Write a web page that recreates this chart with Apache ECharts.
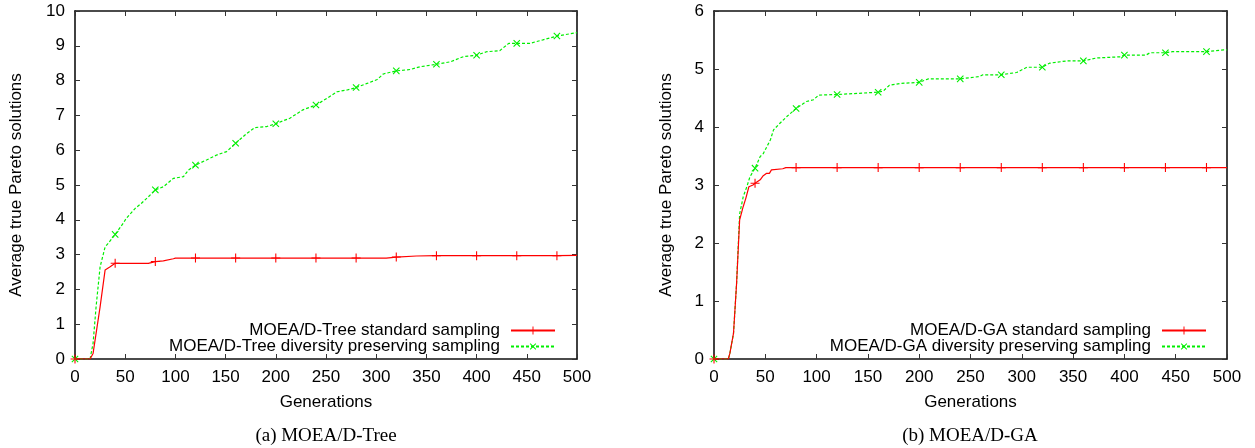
<!DOCTYPE html>
<html>
<head>
<meta charset="utf-8">
<script src="https://cdn.jsdelivr.net/npm/echarts@6/dist/echarts.min.js"></script>
<style>html,body{margin:0;padding:0;background:#fff;}#c{width:1255px;height:448px;}</style>
</head>
<body>
<div id="c"></div>
<script>
// ---- data ----
var markerGens = [0, 40, 80, 120, 160, 200, 240, 280, 320, 360, 400, 440, 480];

var treeStdGen = [0, 15, 18, 25, 30, 35, 40, 73, 80, 88, 98, 100, 120, 160, 200, 240, 280, 310, 320, 340, 360, 400, 440, 480, 500];
var treeStdVal = [0, 0, 0.16, 1.5, 2.56, 2.65, 2.75, 2.75, 2.80, 2.82, 2.88, 2.9, 2.9, 2.9, 2.9, 2.9, 2.9, 2.9, 2.93, 2.96, 2.97, 2.97, 2.97, 2.97, 2.98];

var treeDivGen = [0, 15, 18, 21, 25, 30, 33, 40, 48, 51, 60, 66, 73, 80, 88, 98, 108, 113, 120, 131, 141, 151, 160, 171, 179, 191, 200, 214, 227, 240, 251, 261, 271, 280, 291, 301, 307, 320, 334, 344, 360, 374, 387, 400, 410, 423, 432, 440, 453, 466, 480, 500];
var treeDivVal = [0, 0, 0.45, 1.5, 2.65, 3.22, 3.32, 3.58, 3.9, 4.04, 4.33, 4.47, 4.66, 4.86, 4.95, 5.19, 5.24, 5.43, 5.57, 5.72, 5.86, 5.96, 6.2, 6.48, 6.65, 6.68, 6.76, 6.92, 7.16, 7.30, 7.49, 7.68, 7.73, 7.8, 7.92, 8.03, 8.19, 8.28, 8.32, 8.40, 8.47, 8.54, 8.69, 8.73, 8.83, 8.86, 9.07, 9.07, 9.07, 9.17, 9.28, 9.38];

var gaStdGen = [0, 14, 15.5, 19, 22, 25, 28.5, 31, 34, 38, 40, 45, 48, 51, 54, 56, 67, 70, 80, 120, 160, 200, 240, 280, 320, 360, 400, 440, 480, 500];
var gaStdVal = [0, 0, 0.1, 0.44, 1.3, 2.4, 2.63, 2.77, 2.97, 3.0, 3.03, 3.09, 3.16, 3.2, 3.2, 3.26, 3.28, 3.3, 3.3, 3.3, 3.3, 3.3, 3.3, 3.3, 3.3, 3.3, 3.3, 3.3, 3.3, 3.3];

var gaDivGen = [0, 14, 15.5, 19, 22, 25, 28.5, 32, 35, 40, 45, 48, 55, 58, 64, 71, 80, 90, 97, 102, 120, 160, 165, 171, 181, 200, 209, 240, 259, 262, 280, 295, 305, 320, 327, 344, 360, 373, 396, 400, 421, 425, 440, 447, 480, 497, 500];
var gaDivVal = [0, 0, 0.1, 0.44, 1.3, 2.5, 2.8, 2.97, 3.14, 3.29, 3.49, 3.54, 3.78, 3.95, 4.06, 4.18, 4.32, 4.44, 4.47, 4.55, 4.56, 4.6, 4.62, 4.72, 4.75, 4.77, 4.83, 4.83, 4.87, 4.9, 4.9, 4.94, 5.03, 5.03, 5.1, 5.14, 5.14, 5.19, 5.21, 5.24, 5.24, 5.28, 5.28, 5.3, 5.3, 5.33, 5.33];

var xTicks = [0, 50, 100, 150, 200, 250, 300, 350, 400, 450, 500];
var yMaxLeft = 10, yMaxRight = 6;

var names = {
  treeStd: 'MOEA/D-Tree standard sampling',
  treeDiv: 'MOEA/D-Tree diversity preserving sampling',
  gaStd: 'MOEA/D-GA standard sampling',
  gaDiv: 'MOEA/D-GA diversity preserving sampling'
};
var xName = 'Generations';
var yName = 'Average true Pareto solutions';
var captions = ['(a) MOEA/D-Tree', '(b) MOEA/D-GA'];

// ---- build ----
var FONT = "'Liberation Sans', Arial, sans-serif";
var FS = 17;
var PLUS = 'path://M4.4,0h1.2v4.4h4.4v1.2h-4.4v4.4h-1.2v-4.4h-4.4v-1.2h4.4z';

function buildData(gens, vals) {
  return gens.map(function (g, i) {
    var item = { value: [g, vals[i]] };
    if (markerGens.indexOf(g) < 0) item.symbol = 'none';
    return item;
  });
}

var axisLine = { show: true, onZero: false, lineStyle: { color: '#111', width: 1.6 } };
var axisTick = { show: true, inside: true, length: 5, lineStyle: { color: '#333', width: 1 } };
var labelStyle = { color: '#000', fontSize: FS, fontFamily: FONT };

function xAxes(grid) {
  return [
    { type: 'value', gridIndex: grid, position: 'bottom', min: 0, max: 500, interval: 50,
      axisLine: axisLine, axisTick: axisTick, splitLine: { show: false },
      axisLabel: Object.assign({ margin: 10 }, labelStyle),
      name: xName, nameLocation: 'middle', nameGap: 35,
      nameTextStyle: { color: '#000', fontSize: FS, fontFamily: FONT } },
    { type: 'value', gridIndex: grid, position: 'top', min: 0, max: 500, interval: 50,
      axisLine: axisLine, axisTick: axisTick, splitLine: { show: false }, axisLabel: { show: false } }
  ];
}
function yAxes(grid, max, gap) {
  return [
    { type: 'value', gridIndex: grid, position: 'left', min: 0, max: max, interval: 1,
      axisLine: axisLine, axisTick: axisTick, splitLine: { show: false },
      axisLabel: Object.assign({ margin: 10 }, labelStyle),
      name: yName, nameLocation: 'middle', nameGap: gap, nameRotate: 90,
      nameTextStyle: { color: '#000', fontSize: FS, fontFamily: FONT } },
    { type: 'value', gridIndex: grid, position: 'right', min: 0, max: max, interval: 1,
      axisLine: axisLine, axisTick: axisTick, splitLine: { show: false }, axisLabel: { show: false } }
  ];
}

function lineSeries(name, gens, vals, xi, yi, isDiv) {
  return {
    type: 'line', name: name, xAxisIndex: xi, yAxisIndex: yi,
    data: buildData(gens, vals),
    symbol: PLUS, symbolSize: 9, symbolRotate: isDiv ? 45 : 0,
    showSymbol: true, showAllSymbol: true, animation: false,
    itemStyle: { color: isDiv ? '#00ee00' : '#ff0000' },
    lineStyle: { color: isDiv ? '#00ee00' : '#ff0000', width: 1.2, type: isDiv ? [3, 2] : 'solid' },
    z: isDiv ? 3 : 4
  };
}

function legend(name, right, top) {
  return {
    data: [name], orient: 'vertical', right: right, top: top, align: 'right',
    itemWidth: 44, itemHeight: 10, itemGap: 0, padding: 0,
    textStyle: { color: '#000', fontSize: FS, fontFamily: FONT, padding: [0, 6, 0, 0] },
    selectedMode: false
  };
}

var capFont = "19px 'Liberation Serif', 'Times New Roman', serif";

var option = {
  backgroundColor: '#fff',
  animation: false,
  grid: [
    { left: 75, right: 678, top: 11, bottom: 89 },
    { left: 714, right: 28, top: 11, bottom: 89 }
  ],
  xAxis: xAxes(0).concat(xAxes(1)),
  yAxis: yAxes(0, yMaxLeft, 50).concat(yAxes(1, yMaxRight, 39)),
  legend: [
    legend(names.treeStd, 699, 322),
    legend(names.treeDiv, 699, 338),
    legend(names.gaStd, 48, 322),
    legend(names.gaDiv, 48, 338)
  ],
  series: [
    lineSeries(names.treeStd, treeStdGen, treeStdVal, 0, 0, false),
    lineSeries(names.treeDiv, treeDivGen, treeDivVal, 0, 0, true),
    lineSeries(names.gaStd, gaStdGen, gaStdVal, 2, 2, false),
    lineSeries(names.gaDiv, gaDivGen, gaDivVal, 2, 2, true)
  ],
  graphic: [
    { type: 'text', x: 326, y: 436, style: { text: captions[0], fill: '#000', font: capFont, align: 'center', verticalAlign: 'middle' } },
    { type: 'text', x: 970, y: 436, style: { text: captions[1], fill: '#000', font: capFont, align: 'center', verticalAlign: 'middle' } }
  ]
};

var chart = echarts.init(document.getElementById('c'), null, { renderer: 'canvas' });
chart.setOption(option);
</script>
</body>
</html>
